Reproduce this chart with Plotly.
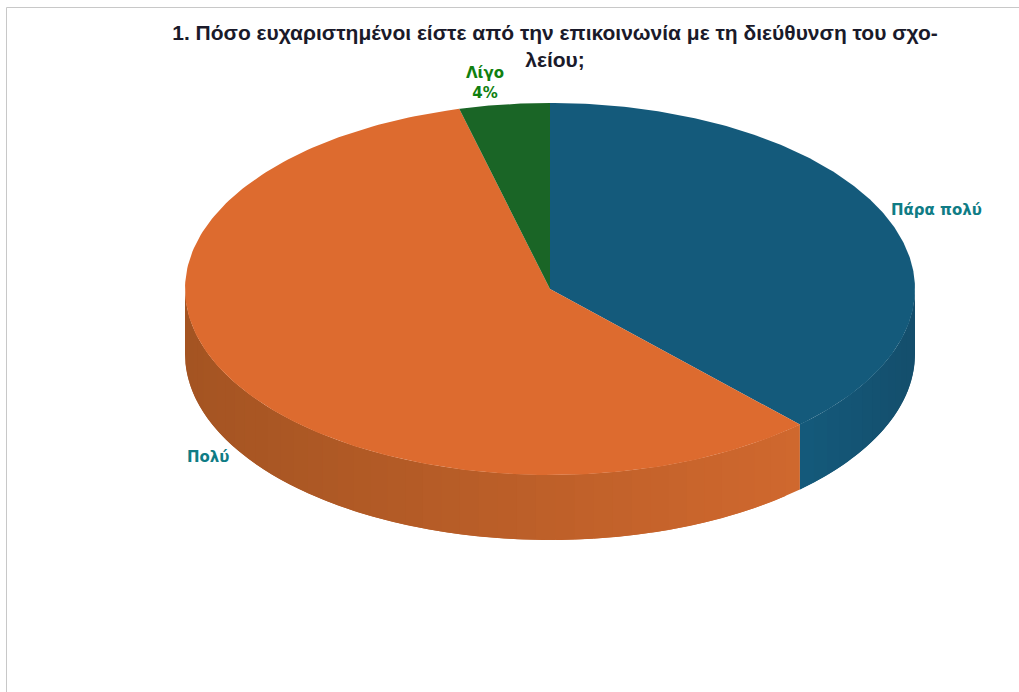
import numpy as np
import plotly.graph_objects as go

categories = ["Πάρα πολύ", "Πολύ", "Λίγο"]
values = [38.0, 58.0, 4.0]
top_colors = ["#145A7B", "#DD6B2F", "#1A6526"]
# side shading: colour at the left and right ends of the visible rim
side_left = {"Πάρα πολύ": (20, 90, 123), "Πολύ": (164, 84, 34)}
side_right = {"Πάρα πολύ": (20, 78, 108), "Πολύ": (208, 104, 46)}
title_text = "1. Πόσο ευχαριστημένοι είστε από την επικοινωνία με τη διεύθυνση του σχο-<br>λείου;"

W, H = 1019, 692
CX, CY, RX, RY, DEPTH = 550, 289, 365, 186, 65

fig = go.Figure()

def add_poly(xs, ys, color):
    fig.add_trace(go.Scatter(x=xs, y=ys, mode="lines", fill="toself", fillcolor=color,
                             line=dict(width=0), hoverinfo="skip", showlegend=False))

fractions = np.cumsum([0] + values) / sum(values) * 2 * np.pi
ex = lambda a: np.sin(a)
ey = lambda a: -np.cos(a) * RY / RX
d = DEPTH / RX

# rim: bands run toward increasing angle and overlap the next one so no seams show
for i, cat in enumerate(categories):
    a0, a1 = fractions[i], fractions[i + 1]
    lo, hi = max(a0, np.pi / 2), min(a1, 3 * np.pi / 2)
    if hi <= lo or cat not in side_left:
        continue
    n = max(2, int((hi - lo) / np.radians(3)))
    edges = np.linspace(lo, hi, n + 1)
    xmin, xmax = ex(edges).min(), ex(edges).max()
    for j in range(n):
        arc = np.linspace(edges[j], hi if j == n - 1 else edges[j + 2 if j + 2 <= n else n], 7)
        t = (ex((edges[j] + edges[j + 1]) / 2) - xmin) / (xmax - xmin)
        col = [round(l + (r - l) * t) for l, r in zip(side_left[cat], side_right[cat])]
        xs = list(ex(arc)) + list(ex(arc[::-1]))
        ys = list(ey(arc)) + list(ey(arc[::-1]) + d)
        add_poly(xs + xs[:1], ys + ys[:1], f"rgb({col[0]},{col[1]},{col[2]})")

# top face
for i, cat in enumerate(categories):
    arc = np.linspace(fractions[i], fractions[i + 1], 200)
    add_poly([0] + list(ex(arc)) + [0], [0] + list(ey(arc)) + [0], top_colors[i])

fig.update_xaxes(visible=False, range=[-CX / RX, (W - CX) / RX], fixedrange=True)
fig.update_yaxes(visible=False, range=[(H - CY) / RX, -CY / RX], fixedrange=True)

def label(text, px, py, color):
    fig.add_annotation(text=text, x=px / W, y=1 - py / H, xref="paper", yref="paper", showarrow=False,
                       xanchor="center", yanchor="middle",
                       font=dict(family="DejaVu Sans", size=15, color=color, weight="bold"))

label("Πάρα πολύ", 936, 210, "#0F7C85")
label("Πολύ", 208, 457, "#0F7C85")
label("Λίγο<br>4%", 485, 83, "#108010")

# frame lines
fig.add_shape(type="line", xref="paper", yref="paper", x0=6.5 / W, x1=1, y0=1 - 7.5 / H, y1=1 - 7.5 / H,
              line=dict(color="#C8C8C8", width=1))
fig.add_shape(type="line", xref="paper", yref="paper", x0=6.5 / W, x1=6.5 / W, y0=1 - 7.5 / H, y1=0,
              line=dict(color="#C8C8C8", width=1))

fig.update_layout(
    width=W, height=H, margin=dict(l=0, r=0, t=0, b=0), paper_bgcolor="white", plot_bgcolor="white",
    showlegend=False,
    title=dict(text=title_text, x=555 / W, xanchor="center", y=1 - 40 / H, yanchor="middle",
               font=dict(family="Liberation Sans", size=21, color="#1A1A2A", weight="bold")),
)
fig.write_html("out.html", post_script="document.body.style.margin='0';", config={"displayModeBar": False})
